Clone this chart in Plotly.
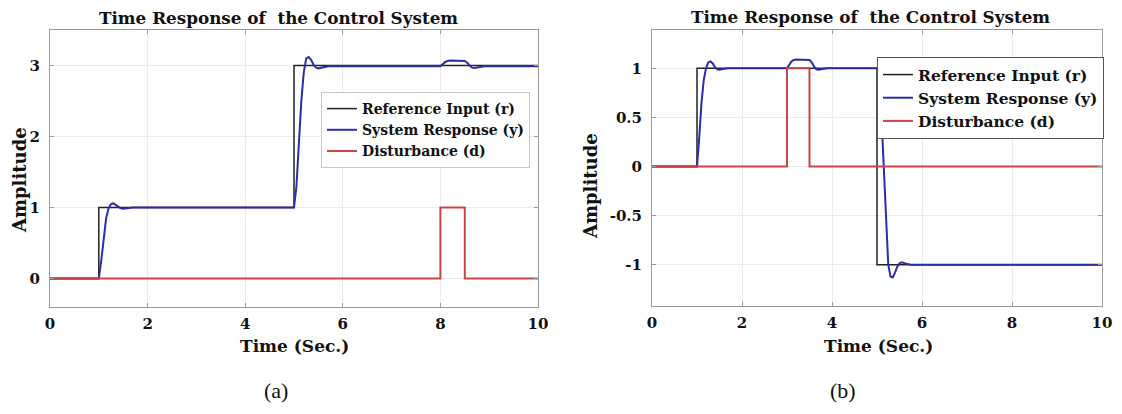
import plotly.graph_objects as go

# ---------------- data: panel (a) ----------------
t_ref_a = [0, 1, 1, 5, 5, 10]
r_a = [0, 0, 1, 1, 3, 3]
t_dist_a = [0, 8, 8, 8.5, 8.5, 10]
d_a = [0, 0, 1, 1, 0, 0]
t_resp_a = [0, 1.0, 1.05, 1.1, 1.15, 1.2, 1.25, 1.3, 1.35, 1.4, 1.45, 1.5, 1.6, 1.7,
            5.0, 5.05, 5.1, 5.15, 5.2, 5.25, 5.3, 5.35, 5.4, 5.45, 5.5, 5.6, 5.7,
            8.0, 8.05, 8.1, 8.15, 8.2, 8.5, 8.55, 8.6, 8.65, 8.7, 8.8, 8.9, 10]
y_a = [0, 0, 0.25, 0.6, 0.85, 0.99, 1.05, 1.06, 1.04, 1.01, 0.99, 0.985, 0.99, 1.0,
       1.0, 1.3, 1.9, 2.5, 2.9, 3.1, 3.12, 3.08, 3.01, 2.97, 2.96, 2.975, 2.99,
       2.99, 3.02, 3.05, 3.065, 3.07, 3.065, 3.04, 3.0, 2.97, 2.965, 2.98, 2.99, 2.99]

# ---------------- data: panel (b) ----------------
t_ref_b = [0, 1, 1, 5, 5, 10]
r_b = [0, 0, 1, 1, -1, -1]
t_dist_b = [0, 3, 3, 3.5, 3.5, 10]
d_b = [0, 0, 1, 1, 0, 0]
t_resp_b = [0, 1.0, 1.05, 1.1, 1.15, 1.2, 1.25, 1.3, 1.35, 1.4, 1.45, 1.5, 1.6, 1.7,
            3.0, 3.05, 3.1, 3.15, 3.2, 3.5, 3.55, 3.6, 3.65, 3.7, 3.8, 3.9,
            5.0, 5.05, 5.1, 5.15, 5.2, 5.25, 5.3, 5.35, 5.4, 5.45, 5.5, 5.55, 5.65, 5.75, 10]
y_b = [0, 0, 0.3, 0.65, 0.88, 1.0, 1.06, 1.07, 1.05, 1.01, 0.99, 0.985, 0.995, 1.0,
       1.0, 1.03, 1.07, 1.085, 1.09, 1.085, 1.06, 1.02, 0.99, 0.985, 0.99, 1.0,
       1.0, 0.95, 0.5, 0.05, -0.55, -1.0, -1.12, -1.13, -1.08, -1.02, -0.985, -0.975, -0.99, -1.0, -1.0]

x_ticks = [0, 2, 4, 6, 8, 10]
y_ticks_a = [0, 1, 2, 3]
y_ticks_b = [-1, -0.5, 0, 0.5, 1]
y_ticktext_b = ["-1", "-0.5", "0", "0.5", "1"]

names = ["Reference Input (r)", "System Response (y)", "Disturbance (d)"]
colors = ["#222222", "#2c2cac", "#c94646"]
widths = [1.5, 2, 2]

SERIF = "DejaVu Serif"
CAP = "Liberation Serif"

# page has an 8px body margin: size the figure so it fits the 1122x414 window
OFF = 8
W, H = 1122 - 2 * OFF, 414 - 2 * OFF


def px(x):
    return (x - OFF) / W


def py(y):
    return 1 - (y - OFF) / H


fig = go.Figure()

panels = [
    (t_ref_a, r_a, t_resp_a, y_a, t_dist_a, d_a, "x", "y", "legend"),
    (t_ref_b, r_b, t_resp_b, y_b, t_dist_b, d_b, "x2", "y2", "legend2"),
]
for tr, r, tyy, yy, td, d, xa, ya, lg in panels:
    series = [(tr, r), (tyy, yy), (td, d)]
    for (tx, vy), nm, c, w in zip(series, names, colors, widths):
        fig.add_trace(go.Scatter(x=tx, y=vy, mode="lines", name="<b>%s</b>" % nm,
                                 line=dict(color=c, width=w),
                                 xaxis=xa, yaxis=ya, legend=lg))

axis_common = dict(showline=True, linecolor="#9a9a9a", linewidth=1, mirror="ticks",
                   ticks="inside", ticklen=4, tickcolor="#9a9a9a",
                   showgrid=True, gridcolor="#ebebeb", gridwidth=1, zeroline=False,
                   tickfont=dict(family=SERIF, size=15, color="#111111"),
                   automargin=False)

fig.update_layout(
    width=W, height=H,
    margin=dict(l=0, r=0, t=0, b=0, autoexpand=False),
    paper_bgcolor="white", plot_bgcolor="white",
    font=dict(family=SERIF, color="#111111"),
    xaxis=dict(domain=[px(50), px(538)], range=[0, 10], tickvals=x_ticks,
               ticktext=["<b>%s</b>" % v for v in x_ticks], anchor="y",
               ticklabelstandoff=3, **axis_common),
    yaxis=dict(domain=[py(307), py(30)], range=[-0.4, 3.5], tickvals=y_ticks_a,
               ticktext=["<b>%s</b>" % v for v in y_ticks_a], anchor="x",
               ticklabelstandoff=6, **axis_common),
    xaxis2=dict(domain=[px(652), px(1102)], range=[0, 10], tickvals=x_ticks,
                ticktext=["<b>%s</b>" % v for v in x_ticks], anchor="y2",
                ticklabelstandoff=3, **axis_common),
    yaxis2=dict(domain=[py(306), py(30)], range=[-1.42, 1.39], tickvals=y_ticks_b,
                ticktext=["<b>%s</b>" % v for v in y_ticktext_b], anchor="x2",
                ticklabelstandoff=6, **axis_common),
    legend=dict(x=px(321), y=py(92), xanchor="left", yanchor="top",
                bgcolor="white", bordercolor="#c8c8c8", borderwidth=1,
                font=dict(family=SERIF, size=14, color="#111111"),
                tracegroupgap=0),
    legend2=dict(x=px(877), y=py(57), xanchor="left", yanchor="top",
                 bgcolor="white", bordercolor="#555555", borderwidth=1,
                 font=dict(family=SERIF, size=15.5, color="#111111"),
                 tracegroupgap=0),
    showlegend=True,
)

title_txt = "<b>Time Response of\u00a0 the Control System</b>"
ann = [
    dict(text=title_txt, x=px(278), y=py(18), font=dict(size=16.8, family=SERIF)),
    dict(text=title_txt, x=px(870), y=py(17), font=dict(size=16.8, family=SERIF)),
    dict(text="<b>Time (Sec.)</b>", x=px(294), y=py(346), font=dict(size=17, family=SERIF)),
    dict(text="<b>Time (Sec.)</b>", x=px(878), y=py(346), font=dict(size=17, family=SERIF)),
    dict(text="<b>Amplitude</b>", x=px(19), y=py(180), font=dict(size=18, family=SERIF), textangle=-90),
    dict(text="<b>Amplitude</b>", x=px(590), y=py(186), font=dict(size=18, family=SERIF), textangle=-90),
    dict(text="(a)", x=px(276), y=py(390), font=dict(size=22, family=CAP)),
    dict(text="(b)", x=px(843), y=py(390), font=dict(size=22, family=CAP)),
]
for a in ann:
    a.update(xref="paper", yref="paper", showarrow=False, xanchor="center", yanchor="middle")
    a["font"].update(color="#111111")
    fig.add_annotation(**a)

fig.write_html("out.html")
